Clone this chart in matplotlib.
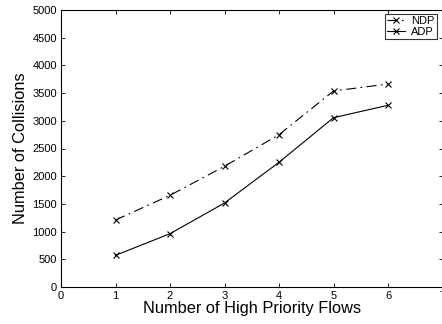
import matplotlib
matplotlib.use("Agg")
import matplotlib.pyplot as plt

flows = [1, 2, 3, 4, 5, 6]
ndp = [1209, 1655, 2179, 2749, 3538, 3664]
adp = [572, 962, 1516, 2251, 3056, 3280]
xticks = [0, 1, 2, 3, 4, 5, 6, 7]
yticks = [0, 500, 1000, 1500, 2000, 2500, 3000, 3500, 4000, 4500, 5000]

plt.rcParams['font.family'] = ['Liberation Sans', 'DejaVu Sans']

fig = plt.figure(figsize=(4.42, 3.24), dpi=100)
ax = fig.add_axes([61/442, 1-287/324, (442.5-61)/442, (287-10)/324])

ax.plot(flows, ndp, color='black', linestyle='-.', dashes=[9, 4, 1.5, 4], linewidth=0.8,
        marker='x', markersize=5, markeredgewidth=0.8, label='NDP')
ax.plot(flows, adp, color='black', linestyle='-', linewidth=0.8, marker='x',
        markersize=5, markeredgewidth=0.8, label='ADP')

ax.set_xlim(0, 7)
ax.set_ylim(0, 5000)
ax.set_xticks(xticks)
ax.set_yticks(yticks)
ax.tick_params(direction='in', top=True, right=True, labelsize=8, length=3, width=0.6, pad=3)
for s in ax.spines.values():
    s.set_linewidth(0.8)

ax.set_xlabel('Number of High Priority Flows', fontsize=11.8, labelpad=0)
ax.set_ylabel('Number of Collisions', fontsize=11.8, labelpad=3)

leg = ax.legend(loc='upper right', bbox_to_anchor=((437-61)/(442.5-61), 1-4/277),
                fontsize=8, frameon=True, fancybox=False, edgecolor='black',
                handlelength=1.6, handletextpad=0.6, borderpad=0.2, labelspacing=0.05,
                borderaxespad=0)
leg.get_frame().set_linewidth(0.8)

fig.savefig('out.png', dpi=100)
